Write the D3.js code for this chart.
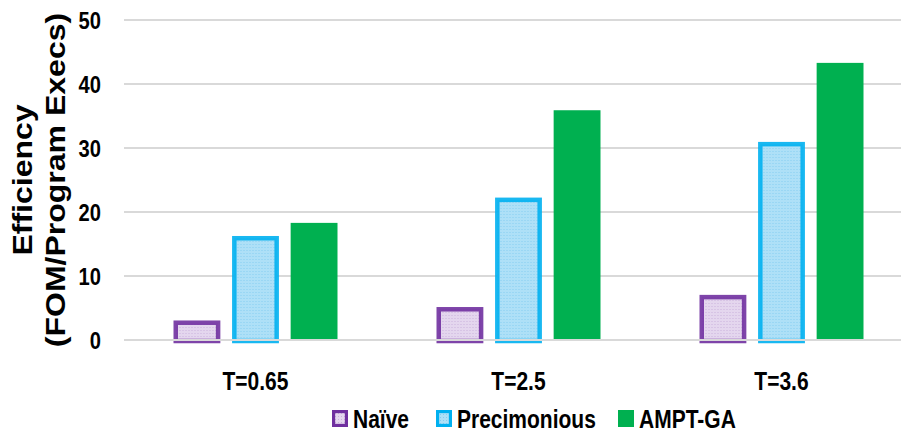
<!DOCTYPE html>
<html>
<head>
<meta charset="utf-8">
<script src="https://cdn.jsdelivr.net/npm/d3@7"></script>
<style>
  body { margin: 0; background: #fff; }
  text { font-family: "Liberation Sans", Arial, sans-serif; font-weight: bold; fill: #000; }
</style>
</head>
<body>
<script>
// grouped bar chart: efficiency per threshold

const categories = ["T=0.65", "T=2.5", "T=3.6"];
const seriesNames = ["Naïve", "Precimonious", "AMPT-GA"];
const naive = [2.7, 4.8, 6.7];
const precimonious = [15.9, 21.9, 30.6];
const amptga = [18.3, 35.9, 43.3];
const yTicks = [0, 10, 20, 30, 40, 50];

const width = 901, height = 432;
const margin = {top: 20, right: -12, bottom: 92, left: 124};
const squeeze = 0.84;   // the original text is narrow and tall

const svg = d3.select("body").append("svg")
    .attr("width", width)
    .attr("height", height);

const defs = svg.append("defs");

// small grid pattern for Naive
const pNaive = defs.append("pattern")
    .attr("id", "pat-naive")
    .attr("width", 3).attr("height", 3)
    .attr("patternUnits", "userSpaceOnUse");
pNaive.append("rect").attr("width", 3).attr("height", 3).attr("fill", "#e4d6ee");
pNaive.append("rect").attr("width", 1).attr("height", 1).attr("fill", "#c9b2dc");

// dotted pattern for Precimonious
const pPrec = defs.append("pattern")
    .attr("id", "pat-prec")
    .attr("width", 3).attr("height", 3)
    .attr("patternUnits", "userSpaceOnUse");
pPrec.append("rect").attr("width", 3).attr("height", 3).attr("fill", "#aee0f7");
pPrec.append("rect").attr("x", 1).attr("y", 1).attr("width", 1).attr("height", 1).attr("fill", "#86cdf0");

const series = [
  {name: seriesNames[0], values: naive, fill: "url(#pat-naive)", stroke: "#7030a0", sw: 4.5},
  {name: seriesNames[1], values: precimonious, fill: "url(#pat-prec)", stroke: "#00b0f0", sw: 4.5},
  {name: seriesNames[2], values: amptga, fill: "#00b050", stroke: "none", sw: 0}
];

const x0 = d3.scaleBand()
    .domain(categories)
    .range([margin.left, width - margin.right]);

const x1 = d3.scaleBand()
    .domain(seriesNames)
    .range([0, 164])
    .paddingInner(0.2);

const y = d3.scaleLinear()
    .domain([0, 50])
    .range([height - margin.bottom, margin.top]);

// gridlines
svg.append("g")
  .selectAll("line")
  .data(yTicks.filter(d => d > 0))
  .join("line")
    .attr("x1", margin.left)
    .attr("x2", width)
    .attr("y1", d => y(d))
    .attr("y2", d => y(d))
    .attr("stroke", "#d9d9d9")
    .attr("stroke-width", 2);

// y tick labels
svg.append("g")
  .selectAll("text")
  .data(yTicks)
  .join("text")
    .attr("transform", d => `translate(101,${y(d)}) scale(${squeeze},1)`)
    .attr("dy", "0.36em")
    .attr("text-anchor", "end")
    .style("font-size", "24px")
    .text(d => d);

// bars
const groups = svg.append("g")
  .selectAll("g")
  .data(categories)
  .join("g")
    .attr("transform", c => `translate(${x0(c) + x0.bandwidth() / 2 - 82},0)`);

groups.selectAll("rect")
  .data((c, i) => series.map(s => ({s: s, v: s.values[i]})))
  .join("rect")
    .attr("x", d => x1(d.s.name) + d.s.sw / 2)
    .attr("width", d => x1.bandwidth() - d.s.sw)
    .attr("y", d => y(d.v))
    .attr("height", d => y(0) - y(d.v) + 1)
    .attr("fill", d => d.s.fill)
    .attr("stroke", d => d.s.stroke)
    .attr("stroke-opacity", 0.9)
    .attr("stroke-width", d => d.s.sw);

// zero line drawn over the bar bottoms
svg.append("line")
    .attr("x1", margin.left)
    .attr("x2", width)
    .attr("y1", y(0))
    .attr("y2", y(0))
    .attr("stroke", "#d9d9d9")
    .attr("stroke-width", 2);

// category labels
svg.append("g")
  .selectAll("text")
  .data(categories)
  .join("text")
    .attr("transform", c => `translate(${x0(c) + x0.bandwidth() / 2},390) scale(${squeeze},1)`)
    .attr("text-anchor", "middle")
    .style("font-size", "25px")
    .text(c => c);

// y axis title, two rotated lines
const titleLines = ["Efficiency", "(FOM/Program Execs)"];
const titleX = [32, 65];
svg.append("g")
  .selectAll("text")
  .data(titleLines)
  .join("text")
    .attr("transform", (d, i) => `translate(${titleX[i]},180) rotate(-90) scale(1,${squeeze})`)
    .attr("text-anchor", "middle")
    .style("font-size", "32px")
    .text(d => d);

// legend
const legendX = [332, 436, 618];
const legend = svg.append("g")
  .selectAll("g")
  .data(series)
  .join("g")
    .attr("transform", (d, i) => `translate(${legendX[i]},410)`);

legend.append("rect")
    .attr("x", d => d.sw * 0.35)
    .attr("y", d => d.sw * 0.35)
    .attr("width", d => 16 - d.sw * 0.7)
    .attr("height", d => 17 - d.sw * 0.7)
    .attr("fill", d => d.fill)
    .attr("stroke", d => d.stroke)
    .attr("stroke-width", d => d.sw * 0.7);

legend.append("text")
    .attr("transform", `translate(21,18) scale(${squeeze},1)`)
    .style("font-size", "25px")
    .text(d => d.name);
</script>
</body>
</html>
